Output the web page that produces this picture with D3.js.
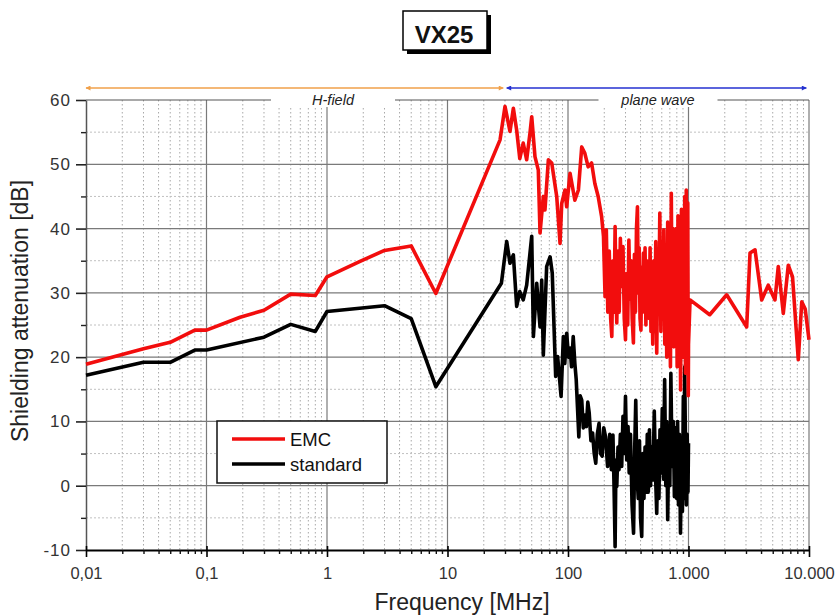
<!DOCTYPE html>
<html><head><meta charset="utf-8">
<script src="https://cdn.jsdelivr.net/npm/d3@7"></script>
<style>body{margin:0;background:#fff}svg{display:block}text{font-family:"Liberation Sans",Arial,sans-serif}</style>
</head><body>
<svg id="c" width="840" height="615"></svg>
<script>
// ---- data ----
const emcFreq = [0.01,0.03,0.05,0.08,0.1,0.19,0.3,0.5,0.8,1,1.88,3,5,8,27.3,30,33,35.2,37.5,39.8,42.5,45.4,48.4,50,53.2,56.7,58.6,62.4,64.4,68.7,73.3,80.6,85.9,88.7,94.4,97.5,104,114,122,130,138,147,157,167,178,190,197,
203,208,214,220,226,231,236,241,246,250,254,260,266,272,279,286,293,300,307,313,320,327,334,341,349,356,363,370,377,383,390,396,403,409,416,423,430,436,443,450,457,464,472,480,488,495,505,515,525,535,545,556,567,578,590,600,612,624,636,648,660,672,684,696,708,720,732,744,756,768,780,792,805,818,832,846,860,874,888,902,916,930,944,958,972,986,996,1000,
1030,1500,2075,3040,3240,3565,4050,4590,5220,5560,6120,6730,7300,8150,8710,9300,10000];
const emcVals = [18.9,21.3,22.3,24.2,24.2,26.2,27.3,29.8,29.6,32.5,34.9,36.6,37.3,29.9,53.8,59.0,55.1,58.7,55.3,50.9,53.3,50.7,54.9,57.4,51.2,49.1,39.3,45.0,42.9,50.7,50.2,45.0,37.7,43.9,46.0,43.4,48.6,44.4,46.0,52.7,51.7,49.6,50.2,47.0,45.0,41.9,38.8,
29.4,39.8,27.0,36.5,26.0,23.2,35.0,27.0,40.3,30.0,
25.3,36.5,27.0,38.5,31.0,37.2,26.0,22.7,33.0,25.0,
38.2,29.0,35.0,26.0,22.2,36.0,27.0,40.0,43.4,30.0,
37.0,26.0,24.2,34.0,27.0,36.2,28.0,37.0,25.0,35.0,
27.9,34.6,26.0,37.0,24.0,33.0,22.0,35.0,24.0,38.0,
20.6,36.0,28.0,42.4,24.0,38.0,26.8,39.8,22.0,36.0,
20.0,41.0,25.0,38.0,18.5,45.5,22.0,40.0,21.6,38.2,
24.0,40.0,18.5,42.0,22.0,40.0,14.9,43.0,20.0,42.0,
20.0,45.0,17.5,46.0,25.0,44.0,14.0,22.0,
28.9,26.6,29.7,24.7,36.2,36.7,28.9,31.2,28.9,34.1,26.8,34.3,32.5,19.6,28.6,27.5,22.7];

const stdFreq = [0.01,0.03,0.05,0.08,0.1,0.3,0.5,0.8,1,3,5,8,28,31,33,35.2,37.5,39.8,42.5,45.4,50,51.6,55,58.6,60.5,62.4,66.5,71,74,79,82,
87.6,91.5,94,97.5,101,104,107,110.5,114,117,120,123,126,130,134,138,142,146,150,155,160,165,170,175,181,186,192,198,
205,213,222,229,236,241,246,250,254,260,265,272,279,286,293,300,307,315,322,330,340,350,358,365,373,383,392,400,409,418,427,436,446,455,464,474,484,495,507,520,532,545,557,568,580,593,606,620,634,648,660,672,686,700,714,730,748,764,780,798,812,826,840,858,874,890,906,918,930,945,960,975,990,1000];
const stdVals = [17.2,19.2,19.2,21.1,21.1,23.1,25.1,24.0,27.1,28.0,26.0,15.4,31.5,38.0,34.6,35.9,27.9,30.2,28.9,31.2,38.8,23.2,31.5,24.7,32.0,20.3,34.1,35.6,33.1,17.0,20.1,
13.9,23.2,19.0,23.7,20.0,21.4,18.5,23.2,19.0,16.5,12.0,7.6,14.0,13.3,9.0,11.0,9.2,13.0,11.3,7.0,8.2,5.0,3.5,8.0,9.7,5.0,4.6,9.0,
7.6,3.0,8.0,2.5,7.9,0.0,-9.5,4.0,-0.1,6.0,
2.5,8.0,3.0,10.8,5.0,13.9,4.0,9.2,2.0,8.0,
-3.0,-7.4,6.0,13.3,2.0,-2.0,7.0,-5.0,-7.9,5.0,
-2.0,6.0,-1.0,8.0,-1.0,8.7,0.0,6.0,0.9,11.6,
2.0,-4.3,7.0,-2.0,8.7,2.0,12.0,1.0,16.5,0.0,
10.0,-5.3,8.0,0.0,17.5,3.0,10.0,-1.7,9.0,-2.0,
10.0,-3.0,8.0,-7.4,6.0,-4.0,13.9,-2.0,18.5,5.0,
-3.0,8.0,-1.0,6.6];

const xMajor = [0.01,0.1,1,10,100,1000,10000];
const xTickLabels = ["0,01","0,1","1","10","100","1.000","10.000"];
const yMajor = [-10,0,10,20,30,40,50,60];
const yMinor = [-5,5,15,25,35,45,55];
const seriesNames = ["EMC","standard"];
const seriesColors = ["#f20d0d","#000000"];
const regionLabels = ["H-field","plane wave"];
const regionBounds = [[0.01,29],[31,9500]];
const regionColors = ["#f0a04a","#2430d0"];

// ---- drawing ----
const svg = d3.select("#c");
const x = d3.scaleLog().domain([0.01,10000]).range([86,809]);
const y = d3.scaleLinear().domain([-10,60]).range([550,100]);
const xMinor = [];
for (let k=-2;k<=3;k++) for (let d=2;d<=9;d++) xMinor.push(d*Math.pow(10,k));

const grid = svg.append("g");
grid.selectAll(".vmin").data(xMinor).join("line")
  .attr("x1",d=>x(d)).attr("x2",d=>x(d)).attr("y1",y(60)).attr("y2",y(-10))
  .attr("stroke","#a8a8a8").attr("stroke-width",1).attr("stroke-dasharray","1.5,2.5");
grid.selectAll(".hmin").data(yMinor).join("line")
  .attr("x1",x(0.01)).attr("x2",x(10000)).attr("y1",d=>y(d)).attr("y2",d=>y(d))
  .attr("stroke","#c0c0c0").attr("stroke-width",1).attr("stroke-dasharray","2,2");
grid.selectAll(".vmaj").data(xMajor.slice(1)).join("line")
  .attr("x1",d=>x(d)).attr("x2",d=>x(d)).attr("y1",y(60)).attr("y2",y(-10))
  .attr("stroke","#7a7a7a").attr("stroke-width",1.2);
grid.selectAll(".hmaj").data(yMajor.slice(1)).join("line")
  .attr("x1",x(0.01)).attr("x2",x(10000)).attr("y1",d=>y(d)).attr("y2",d=>y(d))
  .attr("stroke",d=>d===60?"#555":"#7a7a7a").attr("stroke-width",1.2);

// region labels
const labelCx = [333,658];
const labelW = [124,119];
regionLabels.forEach((t,i)=>{
  svg.append("rect").attr("x",labelCx[i]-labelW[i]/2).attr("y",y(60)-7).attr("width",labelW[i]).attr("height",14).attr("fill","#fff");
  svg.append("text").attr("x",labelCx[i]).attr("y",y(60)+5).attr("text-anchor","middle")
    .attr("font-size",14.5).attr("font-style","italic").attr("fill","#222").text(t);
});

// region arrows
const defs = svg.append("defs");
regionColors.forEach((c,i)=>{
  defs.append("marker").attr("id","ae"+i).attr("viewBox","0 0 10 10").attr("refX",9).attr("refY",5)
    .attr("markerWidth",7).attr("markerHeight",5).attr("orient","auto-start-reverse").attr("markerUnits","userSpaceOnUse")
    .append("path").attr("d","M0,0L10,5L0,10z").attr("fill",c);
});
regionBounds.forEach((b,i)=>{
  svg.append("line").attr("x1",x(b[0])).attr("x2",x(b[1])).attr("y1",88).attr("y2",88)
    .attr("stroke",regionColors[i]).attr("stroke-width",1.6)
    .attr("marker-start","url(#ae"+i+")").attr("marker-end","url(#ae"+i+")");
});

// axes
const yAx = svg.append("g").attr("transform","translate(86,0)")
  .call(d3.axisLeft(y).tickValues(yMajor).tickFormat(d=>String(d)).tickSizeInner(10).tickSizeOuter(0).tickPadding(5));
yAx.select(".domain").attr("stroke","#555").attr("stroke-width",1.5);
yAx.selectAll(".tick line").attr("stroke","#222").attr("stroke-width",1.6);
yAx.selectAll("text").attr("font-size",17).attr("letter-spacing",1).attr("fill","#333").attr("font-family","Liberation Sans, Arial, sans-serif");
const yAxm = svg.append("g").attr("transform","translate(86,0)")
  .call(d3.axisLeft(y).tickValues(yMinor).tickFormat("").tickSizeInner(5).tickSizeOuter(0));
yAxm.select(".domain").remove();
yAxm.selectAll(".tick line").attr("stroke","#222").attr("stroke-width",1.4);

const xAx = svg.append("g").attr("transform","translate(0,550)")
  .call(d3.axisBottom(x).tickValues(xMajor).tickFormat((d,i)=>xTickLabels[i]).tickSizeInner(7).tickSizeOuter(0).tickPadding(10));
xAx.select(".domain").attr("stroke","#000").attr("stroke-width",2);
xAx.selectAll(".tick line").attr("stroke","#000").attr("stroke-width",1.6).attr("y1",-4);
xAx.selectAll("text").attr("font-size",16.5).attr("fill","#333").attr("font-family","Liberation Sans, Arial, sans-serif");
const xAxm = svg.append("g").attr("transform","translate(0,550)")
  .call(d3.axisBottom(x).tickValues(xMinor).tickFormat("").tickSizeInner(4).tickSizeOuter(0));
xAxm.select(".domain").remove();
xAxm.selectAll(".tick line").attr("stroke","#111").attr("stroke-width",1.4);

// axis titles
svg.append("text").attr("x",462).attr("y",610).attr("text-anchor","middle").attr("font-size",23).attr("fill","#222").text("Frequency [MHz]");
svg.append("text").attr("transform","translate(28,311) rotate(-90)").attr("text-anchor","middle").attr("font-size",23).attr("fill","#222").text("Shielding attenuation [dB]");

// series
const line = d3.line().x(d=>x(d[0])).y(d=>y(d[1]));
const stdData = stdFreq.map((f,i)=>[f,stdVals[i]]);
const emcData = emcFreq.map((f,i)=>[f,emcVals[i]]);
svg.append("path").datum(stdData).attr("d",line).attr("fill","none").attr("stroke",seriesColors[1]).attr("stroke-width",3.6).attr("stroke-linejoin","round");
svg.append("path").datum(emcData).attr("d",line).attr("fill","none").attr("stroke",seriesColors[0]).attr("stroke-width",3.6).attr("stroke-linejoin","round");

// legend
const lg = svg.append("g");
lg.append("rect").attr("x",217).attr("y",421).attr("width",170).attr("height",62).attr("fill","#fff").attr("stroke","#111").attr("stroke-width",1.5);
seriesNames.forEach((n,i)=>{
  const ly = 439 + i*25;
  lg.append("line").attr("x1",232).attr("x2",285).attr("y1",ly).attr("y2",ly).attr("stroke",seriesColors[i]).attr("stroke-width",3.5);
  lg.append("text").attr("x",290).attr("y",ly+6.5).attr("font-size",18.5).attr("fill","#111").text(n);
});

// title
svg.append("rect").attr("x",407).attr("y",15).attr("width",84).attr("height",39).attr("fill","#000");
svg.append("rect").attr("x",403).attr("y",11).attr("width",84).attr("height",39).attr("fill","#fff").attr("stroke","#000").attr("stroke-width",1.5);
svg.append("text").attr("x",444).attr("y",43).attr("text-anchor","middle").attr("font-size",24).attr("font-weight","bold").attr("fill","#111").text("VX25");
</script>
</body></html>
